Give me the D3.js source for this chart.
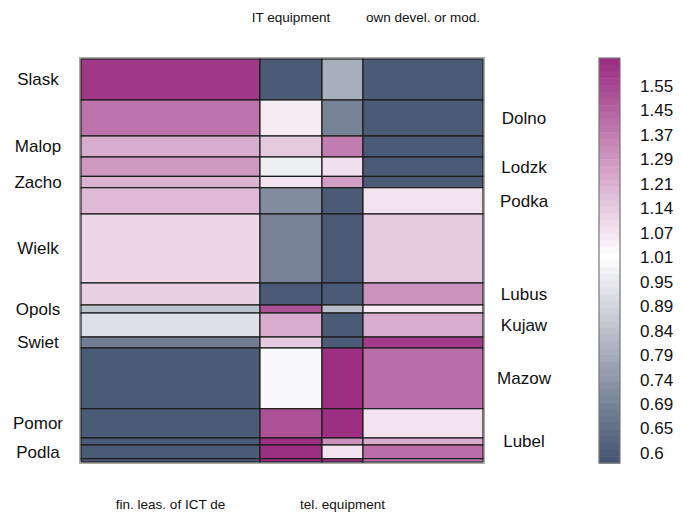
<!DOCTYPE html>
<html>
<head>
<meta charset="utf-8">
<script src="https://cdn.jsdelivr.net/npm/d3@7"></script>
<style>
  body { margin: 0; background: #fff; }
  text { font-family: "Liberation Sans", Arial, sans-serif; fill: #111; }
</style>
</head>
<body>
<div id="chart"></div>
<script>
// regions (rows) and their share of height
var regions = ['Slask','Dolno','Malop','Lodzk','Zacho','Podka','Wielk','Lubus',
  'Opols','Kujaw','Swiet','Mazow','Pomor','Lubel','Podla','Warmi']
var regionWeights = [41, 36, 21, 19.4, 11.3, 26.3, 69, 22, 8, 24, 11, 60.7, 29.3, 7, 13.7, 3.3]
// label shown or not (last one hidden by overlap in the original)
var regionShown = [1,1,1,1,1,1,1,1,1,1,1,1,1,1,1,0]

// categories (columns) and their share of width
var categories = ['fin. leas. of ICT de', 'IT equipment', 'tel. equipment', 'own devel. or mod.']
var categoryWeights = [179, 62, 41, 120]

// ratio values, one row per region, one column per category
var c1 = [1.62, 1.40, 1.22, 1.28, 1.20, 1.18, 1.10, 1.12, 0.83, 0.91, 0.67, 0.6, 0.6, 0.6, 0.6, 0.6]
var c2 = [0.6, 1.05, 1.14, 0.95, 1.07, 0.70, 0.68, 0.6, 1.52, 1.22, 1.14, 0.98, 1.52, 1.65, 1.65, 1.65]
var c3 = [0.78, 0.68, 1.37, 1.08, 1.26, 0.6, 0.6, 0.6, 0.82, 0.6, 0.6, 1.65, 1.65, 1.30, 1.07, 1.65]
var c4 = [0.6, 0.6, 0.6, 0.6, 0.6, 1.07, 1.14, 1.30, 1.04, 1.22, 1.60, 1.42, 1.07, 1.22, 1.42, 1.38]

var legendLabels = ['1.55','1.45','1.37','1.29','1.21','1.14','1.07','1.01',
  '0.95','0.89','0.84','0.79','0.74','0.69','0.65','0.6']

var W = 683, H = 513
var mLeft = 81, mRight = 483, mTop = 59, mBottom = 462

var svg = d3.select('#chart').append('svg')
  .attr('width', W).attr('height', H)

// cumulative positions
function cum(arr){
  var out = [0]
  arr.forEach(function(v, i){ out.push(out[i] + v) })
  return out
}
var xCum = cum(categoryWeights)
var yCum = cum(regionWeights)

var x = d3.scaleLinear().domain([0, xCum[xCum.length-1]]).range([mLeft, mRight])
var y = d3.scaleLinear().domain([0, yCum[yCum.length-1]]).range([mTop, mBottom])

var lo = 0.586, hi = 1.67
var color = d3.scaleLinear()
  .domain([Math.log(lo), 0, Math.log(hi)])
  .range(['#43526f', '#ffffff', '#9a2a7f'])
  .clamp(true)

var cols = [c1, c2, c3, c4]
var cells = []
regions.forEach(function(r, i){
  cols.forEach(function(col, j){
    cells.push({row: i, col: j, value: col[i]})
  })
})

// outer grey frame
svg.append('rect')
  .attr('x', mLeft - 1.5).attr('y', mTop - 1.5)
  .attr('width', mRight - mLeft + 3).attr('height', mBottom - mTop + 3)
  .attr('fill', 'none').attr('stroke', '#aaa').attr('stroke-width', 1)

svg.append('g').attr('class', 'cells')
  .selectAll('rect')
  .data(cells)
  .enter().append('rect')
  .attr('x', function(d){ return x(xCum[d.col]) })
  .attr('y', function(d){ return y(yCum[d.row]) })
  .attr('width', function(d){ return x(xCum[d.col+1]) - x(xCum[d.col]) })
  .attr('height', function(d){ return y(yCum[d.row+1]) - y(yCum[d.row]) })
  .attr('fill', function(d){ return color(Math.log(d.value)) })
  .attr('stroke', '#1c1c1c')
  .attr('stroke-width', 1.2)

// region labels, alternating left / right
svg.append('g').selectAll('text')
  .data(regions.filter(function(r, i){ return regionShown[i] }))
  .enter().append('text')
  .attr('x', function(d){ return regions.indexOf(d) % 2 == 0 ? 38 : 524 })
  .attr('y', function(d){ var i = regions.indexOf(d); return (y(yCum[i]) + y(yCum[i+1])) / 2 })
  .attr('dy', '0.35em')
  .attr('text-anchor', 'middle')
  .style('font-size', '17px')
  .text(function(d){ return d })

// category labels, alternating bottom / top
svg.append('g').selectAll('text')
  .data(categories)
  .enter().append('text')
  .attr('x', function(d, j){ return (x(xCum[j]) + x(xCum[j+1])) / 2 })
  .attr('y', function(d, j){ return j % 2 == 0 ? 509 : 22 })
  .attr('text-anchor', 'middle')
  .style('font-size', '13.5px')
  .text(function(d){ return d })

// LEGEND
var legY = d3.scaleLog().domain([lo, hi]).range([mBottom + 1, mTop - 1])
var steps = d3.range(60)
var stepH = (legY.range()[0] - legY.range()[1]) / steps.length
svg.append('g').selectAll('rect')
  .data(steps)
  .enter().append('rect')
  .attr('x', 599).attr('width', 21)
  .attr('y', function(d){ return legY.range()[1] + d * stepH })
  .attr('height', stepH + 0.5)
  .attr('fill', function(d){ return color(Math.log(legY.invert(legY.range()[1] + (d + 0.5) * stepH))) })
svg.append('rect')
  .attr('x', 599).attr('y', legY.range()[1])
  .attr('width', 21).attr('height', legY.range()[0] - legY.range()[1])
  .attr('fill', 'none').attr('stroke', '#777').attr('stroke-width', 1.2)

var legLab = d3.scalePoint().domain(legendLabels).range([86, 453])
svg.append('g').selectAll('text')
  .data(legendLabels)
  .enter().append('text')
  .attr('x', 640)
  .attr('y', function(d){ return legLab(d) })
  .attr('dy', '0.35em')
  .style('font-size', '17px')
  .text(function(d){ return d })
</script>
</body>
</html>
